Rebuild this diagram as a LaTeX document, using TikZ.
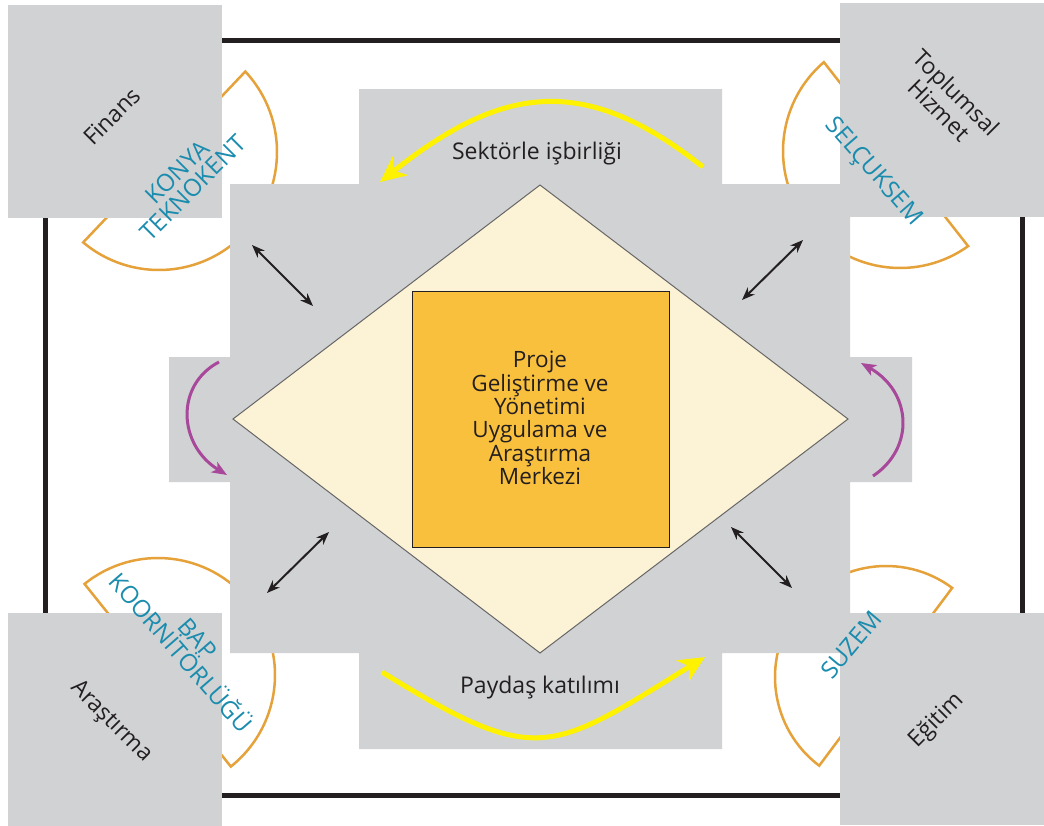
\documentclass[tikz,border=0pt]{standalone}
\usepackage{fontspec}
\setmainfont{Open Sans}
\usetikzlibrary{arrows.meta}
\definecolor{panelgray}{HTML}{D1D2D4}
\definecolor{diamondfill}{HTML}{FCF2D6}
\definecolor{coreorange}{HTML}{F9C03D}
\definecolor{sectorline}{HTML}{E5A23A}
\definecolor{unitteal}{HTML}{1A8CAE}
\definecolor{flowpurple}{HTML}{A8489A}
\definecolor{flowyellow}{HTML}{FFF200}
\definecolor{textdark}{HTML}{231F20}
\begin{document}
\begin{tikzpicture}[x=1pt,y=-1pt,
    cornerbox/.style={fill=panelgray, minimum width=214pt, minimum height=213pt, inner sep=0pt},
    fieldlabel/.style={text=textdark, align=center, font=\fontsize{23}{25}\selectfont},
    corelabel/.style={text=textdark, align=center, font=\fontsize{22.5}{23.4}\selectfont},
    unitlabel/.style={text=unitteal, align=center, font=\fontsize{24}{22}\selectfont},
    sector/.style={draw=sectorline, line width=2.5pt},
    linkarrow/.style={draw=textdark, line width=2pt, {Stealth[length=13pt,width=10pt]}-{Stealth[length=13pt,width=10pt]}},
    turnarrow/.style={draw=flowpurple, line width=3pt, -{Stealth[length=15pt,width=12pt,inset=4pt]}},
    bigarrow/.style={draw=flowyellow, line width=5pt, -{Stealth[length=26pt,width=24pt,inset=8pt]}}]
\useasboundingbox (0,0) rectangle (1044,825);
% outer frame
\draw[textdark, line width=5pt] (45,40) rectangle (1022,795);
% half discs behind the boxes
\draw[sector] (159,152) ++(-43:118) arc (-43:130:118) -- cycle;
\draw[sector] (900,151) ++(229.4:117) arc (229.4:54.4:117) -- cycle;
\draw[sector] (158,675) ++(-128.9:117) arc (-128.9:51.5:117) -- cycle;
\draw[sector] (886,677) ++(-53.4:111) arc (-53.4:-233:111) -- cycle;
% grey cross
\fill[panelgray] (359,89) -- (722,89) -- (722,184) -- (850,184) -- (850,357) -- (912,357)
  -- (912,482) -- (850,482) -- (850,653) -- (722,653) -- (722,749) -- (359,749)
  -- (359,653) -- (230,653) -- (230,482) -- (169,482) -- (169,357) -- (230,357)
  -- (230,184) -- (359,184) -- cycle;
% corner boxes
\node[cornerbox] (finbox) at (115,111.5) {};
\node[cornerbox, minimum width=204pt, minimum height=214pt] (hizbox) at (942,110) {};
\node[cornerbox] (arsbox) at (115,719) {};
\node[cornerbox, minimum width=204pt, minimum height=212pt] (egibox) at (942,719) {};
% diamond and core
\filldraw[fill=diamondfill, draw=black!60, line width=1pt] (540,185) -- (848,419) -- (540,653) -- (233,419) -- cycle;
\node[fill=coreorange, draw=textdark, line width=1pt, minimum width=257pt, minimum height=256pt,
  inner sep=0pt] (corebox) at (540.5,419) {};
\node[corelabel] (merkez) at (540,418) {Proje\\Geliştirme ve\\Yönetimi\\Uygulama ve\\Araştırma\\Merkezi};
% labels
\node[fieldlabel] (sektor) at (537,154) {Sektörle işbirliği};
\node[fieldlabel] (paydas) at (540,688) {Paydaş katılımı};
\node[fieldlabel, rotate=45] (finans) at (112,116) {Finans};
\node[fieldlabel, rotate=-45] (toplum) at (948,101) {Toplumsal\\Hizmet};
\node[fieldlabel, rotate=-45] (arastir) at (111,722) {Araştırma};
\node[fieldlabel, rotate=45] (egitim) at (937,721) {Eğitim};
\node[unitlabel, rotate=45] (konya) at (185,180) {KONYA\\TEKNOKENT};
\node[unitlabel, rotate=-49] (selcuk) at (873,172) {SELÇUKSEM};
\node[unitlabel, rotate=-49] (bap) at (189,646) {BAP\\KOORNİTÖRLÜĞÜ};
\node[unitlabel, rotate=50] (suzem) at (851,645) {SUZEM};
% arrow ends
\coordinate (tlA) at (252,245); \coordinate (tlB) at (313,306);
\coordinate (trA) at (742,300); \coordinate (trB) at (803,240);
\coordinate (blA) at (329,532); \coordinate (blB) at (267,593);
\coordinate (brA) at (731,527); \coordinate (brB) at (792,588);
\draw[linkarrow] (tlA) -- (tlB);
\draw[linkarrow] (trA) -- (trB);
\draw[linkarrow] (blA) -- (blB);
\draw[linkarrow] (brA) -- (brB);
\coordinate (topS) at (703,167); \coordinate (topE) at (380,182);
\coordinate (botS) at (382,672); \coordinate (botE) at (705,657);
\draw[bigarrow] (topS) .. controls (583,71.5) and (500,86.5) .. (topE);
\draw[bigarrow] (botS) .. controls (537,768) and (550,753) .. (botE);
\coordinate (lS) at (219,362); \coordinate (lE) at (227,475);
\coordinate (rS) at (873,476); \coordinate (rE) at (861,363);
\draw[turnarrow] (lS) .. controls (175,385) and (178,445) .. (lE);
\draw[turnarrow] (rS) .. controls (915,448) and (912,392) .. (rE);
\end{tikzpicture}
\end{document}
